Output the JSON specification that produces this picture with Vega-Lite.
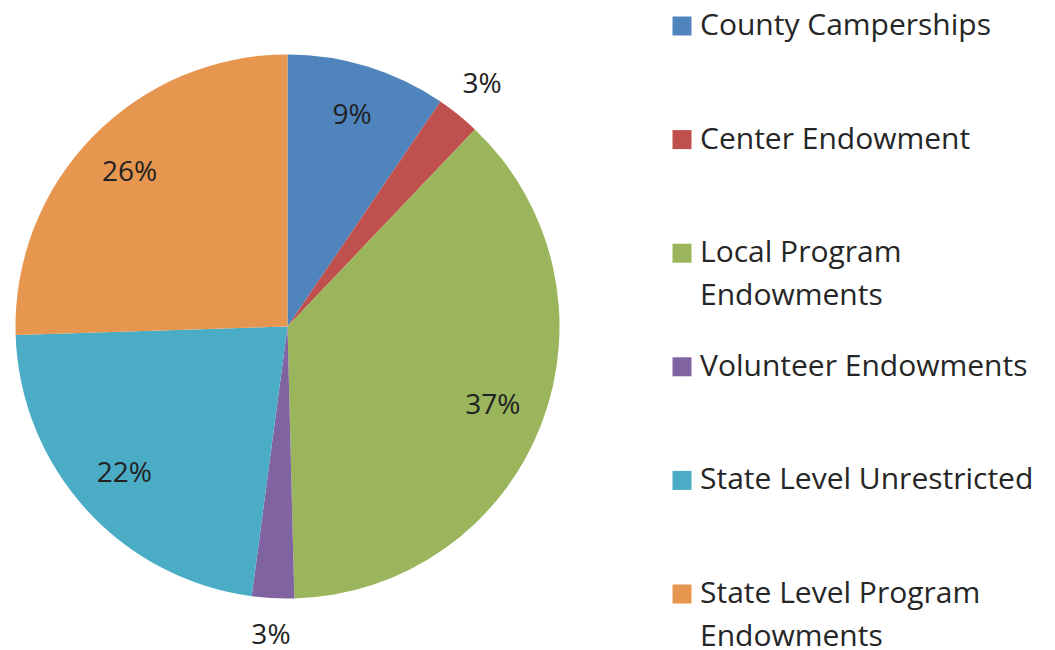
{
  "$schema": "https://vega.github.io/schema/vega-lite/v6.json",
  "width": 575,
  "height": 653,
  "padding": 0,
  "background": "white",
  "config": {"view": {"stroke": null}, "style": {"guide-label": {"lineHeight": 43}}},
  "data": {
    "values": [
      {"category": "County Camperships", "value": 9.5, "idx": 1, "label": "9%"},
      {"category": "Center Endowment", "value": 2.6, "idx": 2, "label": "3%"},
      {"category": "Local Program Endowments", "value": 37.5, "idx": 3, "label": "37%"},
      {"category": "Volunteer Endowments", "value": 2.5, "idx": 4, "label": "3%"},
      {"category": "State Level Unrestricted", "value": 22.4, "idx": 5, "label": "22%"},
      {"category": "State Level Program Endowments", "value": 25.5, "idx": 6, "label": "26%"}
    ]
  },
  "encoding": {
    "theta": {"field": "value", "type": "quantitative", "stack": true},
    "order": {"field": "idx", "type": "quantitative"}
  },
  "layer": [
    {
      "mark": {"type": "arc", "outerRadius": 272, "stroke": null},
      "encoding": {
        "color": {
          "field": "category",
          "type": "nominal",
          "scale": {
            "domain": ["County Camperships", "Center Endowment", "Local Program Endowments", "Volunteer Endowments", "State Level Unrestricted", "State Level Program Endowments"],
            "range": ["#4F84BC", "#C0504D", "#9BB55C", "#8064A2", "#4BACC6", "#E6964F"]
          },
          "legend": {
            "orient": "none",
            "legendX": 667,
            "legendY": 11,
            "title": null,
            "symbolType": "square",
            "symbolSize": 361,
            "symbolStrokeWidth": 0,
            "labelFont": "Open Sans",
            "labelFontSize": 30,
            "labelColor": "#262626",
            "labelOffset": 3,
            "labelLimit": 0,
            "rowPadding": 40.6,
            "gridAlign": "all",
            "labelExpr": "datum.label == 'Local Program Endowments' ? ['Local Program', 'Endowments'] : datum.label == 'State Level Program Endowments' ? ['State Level Program', 'Endowments'] : datum.label",
            "encode": {"labels": {"update": {"lineHeight": {"value": 43}}}}
          }
        }
      }
    },
    {
      "mark": {"type": "text", "radius": 220, "font": "Open Sans", "fontSize": 28, "color": "#222222"},
      "encoding": {
        "text": {"condition": {"test": "datum.value > 5", "field": "label"}, "value": ""}
      }
    },
    {
      "mark": {"type": "text", "radius": 310, "font": "Open Sans", "fontSize": 28, "color": "#222222"},
      "encoding": {
        "text": {"condition": {"test": "datum.value <= 5", "field": "label"}, "value": ""}
      }
    }
  ]
}
